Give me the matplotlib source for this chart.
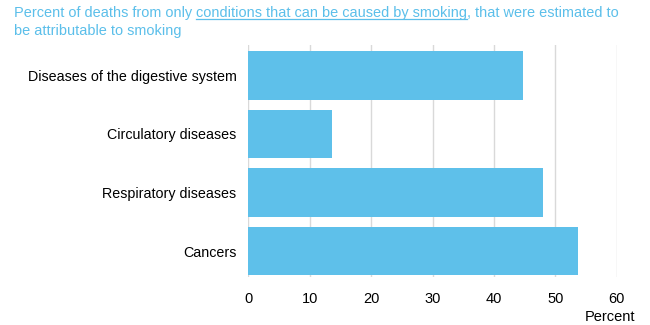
import matplotlib
matplotlib.use("Agg")
import matplotlib.pyplot as plt

plt.rcParams['font.family'] = ['Liberation Sans', 'DejaVu Sans']

categories = ["Cancers", "Respiratory diseases", "Circulatory diseases",
              "Diseases of the digestive system"]
values = [53.6, 47.9, 13.7, 44.7]
xticks = [0, 10, 20, 30, 40, 50, 60]

bar_color = "#5ec0ea"
title_color = "#5bbfea"

fig = plt.figure(figsize=(6.5, 3.25), dpi=100)
ax = fig.add_axes([0.382, 0.148, 0.567, 0.714])

ax.barh(range(len(categories)), values, height=0.83, color=bar_color, zorder=2)
ax.set_yticks(range(len(categories)))
ax.set_yticklabels(categories, fontsize=10.3, color="#000000")
ax.set_xticks(xticks)
ax.set_xticklabels([str(t) for t in xticks], fontsize=10.5)
ax.set_xlim(0, 60)
ax.set_ylim(-0.44, 3.52)
ax.grid(axis="x", color="#d9d9d9", linewidth=1, zorder=0)
for s in ax.spines.values():
    s.set_visible(False)
ax.tick_params(length=0)
ax.tick_params(axis="x", pad=11)
ax.tick_params(axis="y", pad=8.5)

fig.text(0.977, 0.026, "Percent", ha="right", va="center", fontsize=10.5)

# title with underlined middle part
fig.canvas.draw()
r = fig.canvas.get_renderer()
parts = ["Percent of deaths from only ", "conditions that can be caused by smoking",
         ", that were estimated to"]
x = 14 / 650
y = 1 - 13 / 325
for i, p in enumerate(parts):
    t = fig.text(x, y, p, fontsize=10.45, color=title_color, va="center", ha="left")
    bb = t.get_window_extent(renderer=r)
    bbf = bb.transformed(fig.transFigure.inverted())
    if i == 1:
        uy = bbf.y0 + 0.002
        fig.add_artist(plt.Line2D([bbf.x0, bbf.x1], [uy, uy], color=title_color,
                                  linewidth=0.9, transform=fig.transFigure))
    x = bbf.x1
fig.text(14 / 650, 1 - 31 / 325, "be attributable to smoking", fontsize=10.45,
         color=title_color, va="center", ha="left")

fig.savefig("out.png", dpi=100)
